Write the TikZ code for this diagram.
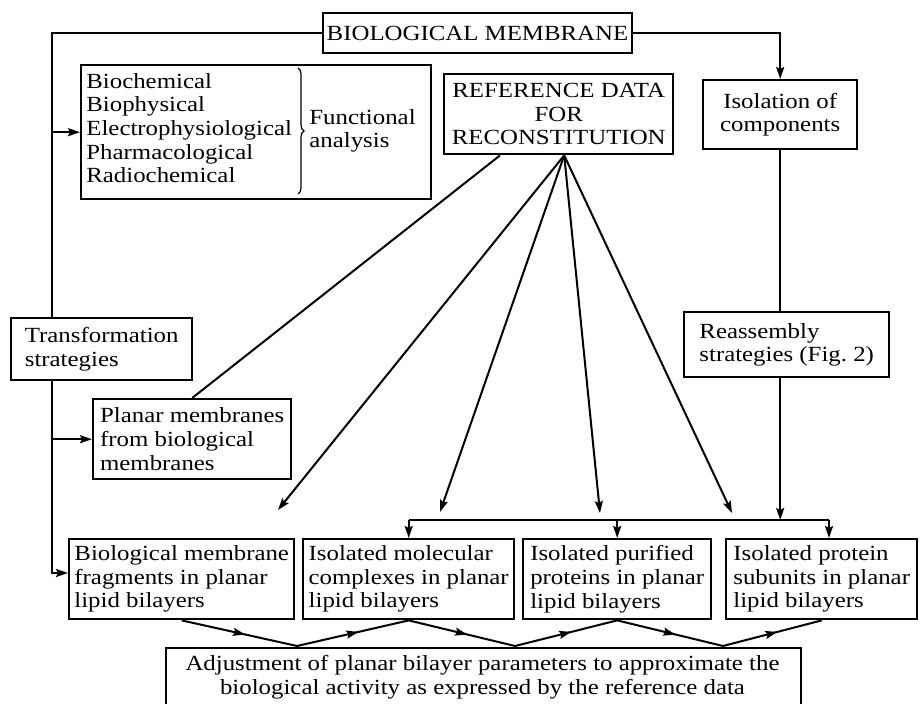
\documentclass[tikz,border=0pt]{standalone}
\usepackage{fontspec}
\setmainfont{Liberation Serif}[FakeStretch=1.15]
\usetikzlibrary{arrows.meta,decorations.pathreplacing,decorations.markings,calc}
\begin{document}
\begin{tikzpicture}[x=0.5pt,y=-0.5pt,
  every node/.style={font=\fontsize{10.8pt}{11.8pt}\selectfont},
  box/.style={draw,line width=1.2pt,fill=white,rectangle,inner sep=0pt,align=center},
  lbox/.style={box,align=left},
  txt/.style={inner sep=0pt,align=left},
  conn/.style={line width=1pt},
  tip/.style={-{Stealth[length=6pt,width=4pt,inset=1pt]}},
  arr/.style={conn,tip},
  midarr/.style={conn,decoration={markings,mark=at position 0.55 with {\arrow{Stealth[length=6pt,width=4pt,inset=1pt]}}},postaction={decorate}}
]
\clip (0,0) rectangle (920,704);
\path[use as bounding box] (0,0) rectangle (920,704);

% top boxes
\node[box,minimum width=154.5pt,minimum height=20pt] (bm) at (477.5,33) {BIOLOGICAL MEMBRANE};
\node[box,anchor=north west,minimum width=175pt,minimum height=67pt] (func) at (80,64) {};
\node[txt,anchor=north west] (funclist) at (86,73) {Biochemical\\Biophysical\\Electrophysiological\\Pharmacological\\Radiochemical};
\node[txt,anchor=west] (functext) at (309,131) {Functional\\analysis};
\draw[line width=0.6pt,decorate,decoration={brace,amplitude=3pt}] (298,68) -- (298,194);

\node[box,anchor=north west,minimum width=114.5pt,minimum height=40pt] (ref) at (443,73) {REFERENCE DATA\\FOR\\RECONSTITUTION};
\node[box,anchor=north west,minimum width=77pt,minimum height=34.5pt] (iso) at (702,79) {Isolation of\\components};

% left trunk
\coordinate (tk) at (52,573);
\draw[arr] (bm.west) -| (tk) -- (tk -| 68,573);
\draw[arr] (tk |- func.west) -- (func.west);

\node[lbox,anchor=north west,minimum width=90.5pt,minimum height=31pt] (trans) at (10,317) {Transformation\\strategies};
\node[lbox,anchor=north west,minimum width=99pt,minimum height=40pt] (planar) at (92,398) {Planar membranes\\from biological\\membranes};
\draw[arr] (tk |- planar.west) -- (planar.west);

\node[lbox,anchor=north west,minimum width=102.5pt,minimum height=32.5pt] (reass) at (683,311) {Reassembly\\strategies (Fig.~2)};

% bottom row
\node[lbox,anchor=north west,minimum width=112.5pt,minimum height=40pt] (bmf) at (68,538) {Biological membrane\\fragments in planar\\lipid bilayers};
\node[lbox,anchor=north west,minimum width=105.5pt,minimum height=40pt] (mol) at (302,538) {Isolated molecular\\complexes in planar\\lipid bilayers};
\node[lbox,anchor=north west,minimum width=94pt,minimum height=40pt] (pur) at (522,538) {Isolated purified\\proteins in planar\\lipid bilayers};
\node[lbox,anchor=north west,minimum width=95.5pt,minimum height=40pt] (sub) at (725,538) {Isolated protein\\subunits in planar\\lipid bilayers};

\node[box,anchor=north west,minimum width=317.5pt,minimum height=45pt] (adj) at (165,647) {};
\node[txt,align=center,anchor=north] (adjt) at (482.5,655) {Adjustment of planar bilayer parameters to approximate the\\biological activity as expressed by the reference data};

% right branch
\draw[arr] (bm.east) -| (iso.north);
\draw[conn] (iso.south) -- (iso.south |- reass.north);
\coordinate (hy) at (0,520);
\coordinate (hr) at (829,520);
\draw[arr] (iso.south |- reass.south) -- (iso.south |- hy);
\draw[conn] (mol.north |- hy) -- (hr);
\draw[arr] (mol.north |- hy) -- (mol.north);
\draw[arr] (pur.north |- hy) -- (pur.north);
\draw[arr] (hr) -- (hr |- sub.north);

% reference data fan
\coordinate (apex) at ([xshift=2.75pt]ref.south);
\coordinate (rs) at ([xshift=28.5pt]ref.south west);
\coordinate (e1) at (278,510);
\coordinate (e2) at (440,512);
\coordinate (e3) at (600,513);
\coordinate (e4) at (732,513);
\draw[arr] (apex) -- (e1);
\draw[arr] (apex) -- (e2);
\draw[arr] (apex) -- (e3);
\draw[arr] (apex) -- (e4);
\draw[conn] (rs) -- (planar.north);

% zigzag to adjustment
\coordinate (v1) at (297,646);
\coordinate (v2) at (515,646);
\coordinate (v3) at (723,646);
\draw[midarr] (bmf.south) -- (v1);
\draw[midarr] (v1) -- (mol.south);
\draw[midarr] (mol.south) -- (v2);
\draw[midarr] (v2) -- (pur.south);
\draw[midarr] (pur.south) -- (v3);
\draw[midarr] (v3) -- (sub.south);
\end{tikzpicture}
\end{document}
